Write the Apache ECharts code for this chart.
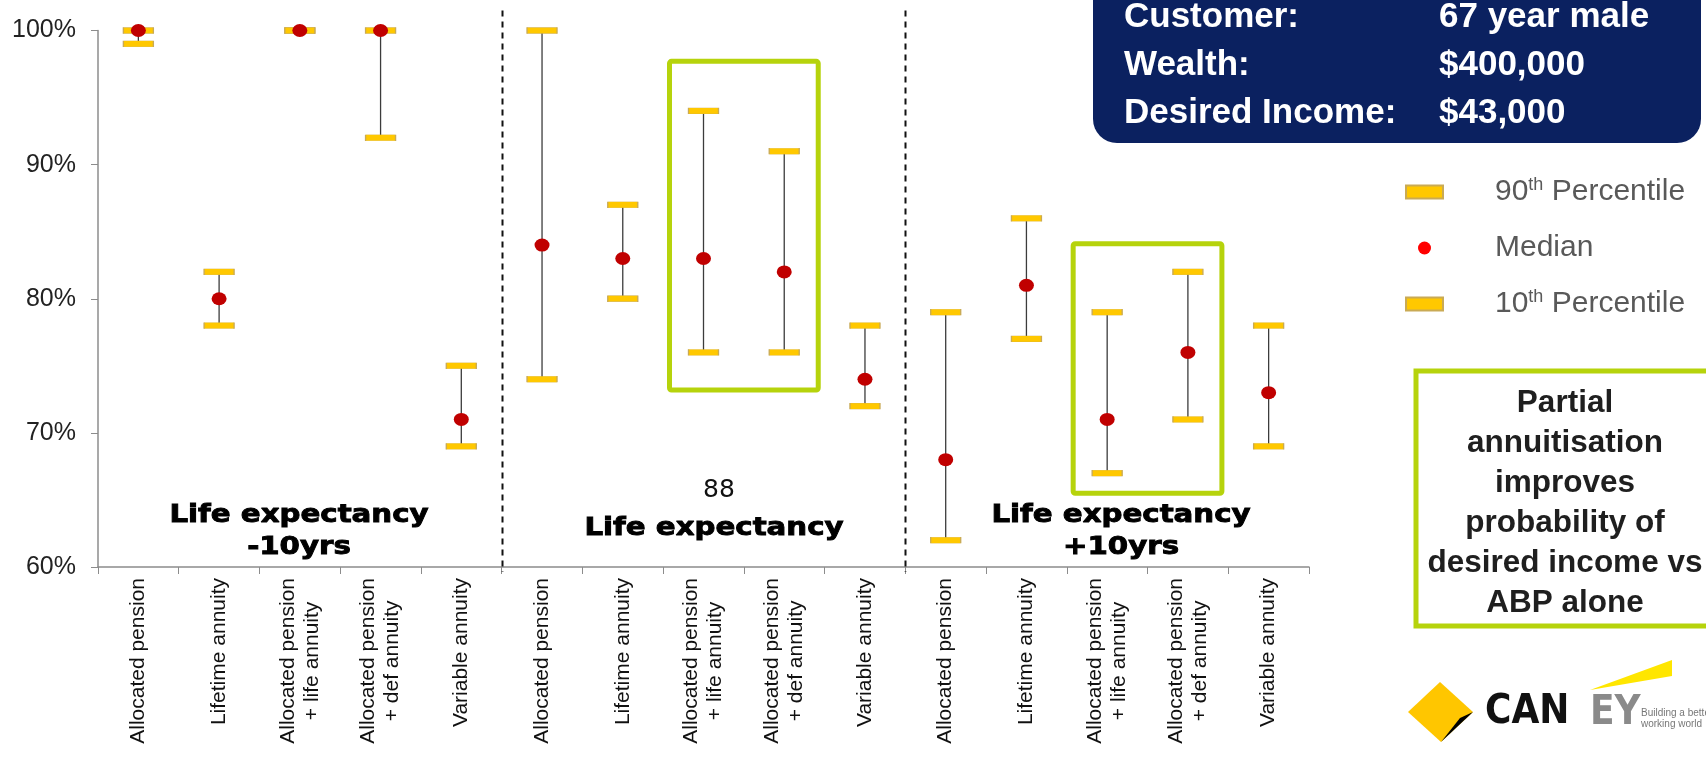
<!DOCTYPE html>
<html>
<head>
<meta charset="utf-8">
<script src="https://cdn.jsdelivr.net/npm/echarts@6/dist/echarts.min.js"></script>
<style>
  html, body { margin: 0; padding: 0; background: #fff; }
  #chart { width: 1706px; height: 757px; }
</style>
</head>
<body>
<div id="chart"></div>
<script>
// categories repeat for the three life-expectancy scenarios
const PRODUCTS = [
  'Allocated pension',
  'Lifetime annuity',
  'Allocated pension\n+ life annuity',
  'Allocated pension\n+ def annuity',
  'Variable annuity',
]
const CATEGORIES = [...PRODUCTS, ...PRODUCTS, ...PRODUCTS]

// probability of meeting desired income (%)
const P90 = [100, 82, 100, 100, 75, 100, 87, 94, 91, 78, 79, 86, 79, 82, 78]
const MEDIAN = [100, 80, 100, 100, 71, 84, 83, 83, 82, 74, 68, 81, 71, 76, 73]
const P10 = [99, 78, 100, 92, 69, 74, 80, 76, 76, 72, 62, 77, 67, 71, 69]

const Y_MIN = 60
const Y_MAX = 100
const Y_STEP = 10

// dashed separators sit after these category indexes
const DIVIDER_AFTER = [4, 9]
// green boxes: [first cat, last cat, top %, bottom %]
const HIGHLIGHTS = [[7, 8, 97.7, 73.2], [12, 13, 84.1, 65.5]]

const GROUP_LABELS = ['Life expectancy\n-10yrs', 'Life expectancy', 'Life expectancy\n+10yrs']
const CUSTOMER_ROWS = [
  ['Customer:', '67 year male'],
  ['Wealth:', '$400,000'],
  ['Desired Income:', '$43,000'],
]
const CALLOUT = 'Partial\nannuitisation\nimproves\nprobability of\ndesired income vs\nABP alone'

const YELLOW = '#FFC800'
const GREEN = '#B6D30C'
const NAVY = '#0B2160'
const FONT = 'Liberation Sans, Arial, sans-serif'
const HEAVY = 'DejaVu Sans, Liberation Sans, sans-serif'

const chart = echarts.init(document.getElementById('chart'), null, { renderer: 'canvas' })

// wide heavy captions (Arial Black look)
function groupText(text, x, y) {
  return {
    type: 'text',
    x, y,
    scaleX: 1.17,
    style: {
      text, fill: '#000', fontFamily: HEAVY, fontWeight: 'bold', fontSize: 25,
      lineHeight: 32, align: 'center', verticalAlign: 'middle',
      stroke: '#000', lineWidth: 0.9,
    },
  }
}

const graphics = [
  // customer box
  { type: 'rect', shape: { x: 1093, y: -24, width: 608, height: 167, r: [0, 0, 24, 24] }, style: { fill: NAVY } },
  ...CUSTOMER_ROWS.flatMap((row, i) => [
    { type: 'text', x: 1124, y: 17 + i * 48, style: { text: row[0], fill: '#fff', fontFamily: FONT, fontWeight: 'bold', fontSize: 35, verticalAlign: 'middle' } },
    { type: 'text', x: 1439, y: 17 + i * 48, style: { text: row[1], fill: '#fff', fontFamily: FONT, fontWeight: 'bold', fontSize: 35, verticalAlign: 'middle' } },
  ]),
  // callout
  { type: 'rect', shape: { x: 1416, y: 371, width: 320, height: 255 }, style: { fill: '#fff', stroke: GREEN, lineWidth: 5 } },
  { type: 'text', x: 1565, y: 503, style: { text: CALLOUT, fill: '#1f1f1f', fontFamily: FONT, fontWeight: 'bold', fontSize: 31.5, lineHeight: 40, align: 'center', verticalAlign: 'middle' } },
  // scenario labels
  groupText(GROUP_LABELS[0], 299, 531),
  { type: 'text', x: 719, y: 490, style: { text: '88', fill: '#111', fontFamily: HEAVY, fontSize: 25, align: 'center', verticalAlign: 'middle' } },
  groupText(GROUP_LABELS[1], 714, 528),
  groupText(GROUP_LABELS[2], 1121, 531),
  // logos
  { type: 'polygon', shape: { points: [[1408, 712], [1440, 682], [1473, 712], [1441, 742]] }, style: { fill: '#FFC600' } },
  { type: 'polygon', shape: { points: [[1473, 712], [1441, 742], [1460, 718]] }, style: { fill: '#000' } },
  { type: 'text', x: 1485, y: 713, style: { text: 'CAN', fill: '#111', fontFamily: 'DejaVu Sans Condensed, DejaVu Sans, sans-serif', fontWeight: 'bold', fontSize: 40, verticalAlign: 'middle' } },
  { type: 'polygon', shape: { points: [[1590, 690], [1672, 660], [1672, 676]] }, style: { fill: '#FFE600' } },
  { type: 'text', x: 1590, y: 714, style: { text: 'EY', fill: '#8a8a8a', fontFamily: 'DejaVu Sans Condensed, DejaVu Sans, sans-serif', fontWeight: 'bold', fontSize: 40, verticalAlign: 'middle' } },
  { type: 'text', x: 1641, y: 719, style: { text: 'Building a better\nworking world', fill: '#777', fontFamily: FONT, fontSize: 10, lineHeight: 11, verticalAlign: 'middle' } },
]

chart.setOption({
  animation: false,
  backgroundColor: '#fff',
  grid: { left: 98, right: 397, top: 30.5, bottom: 190, containLabel: false },
  legend: {
    orient: 'vertical',
    left: 1400,
    top: 171,
    itemWidth: 37,
    itemHeight: 13,
    itemGap: 24,
    data: [
      { name: '90th Percentile', icon: 'rect' },
      { name: 'Median', icon: 'circle', itemStyle: { color: '#FF0000' } },
      { name: '10th Percentile', icon: 'rect' },
    ],
    formatter: name => name.replace(/^(\d+)th/, '$1{sup|th}'),
    textStyle: {
      fontSize: 30,
      lineHeight: 32,
      color: '#595959',
      fontFamily: FONT,
      padding: [0, 0, 0, 47],
      rich: { sup: { fontSize: 18, color: '#595959', verticalAlign: 'top', fontFamily: FONT } },
    },
  },
  xAxis: {
    type: 'category',
    data: CATEGORIES,
    axisLine: { lineStyle: { color: '#8c8c8c', width: 1.5 } },
    axisTick: { show: true, interval: 0, length: 7, lineStyle: { color: '#8c8c8c' } },
    axisLabel: {
      interval: 0,
      rotate: 90,
      margin: 11,
      color: '#111',
      fontFamily: FONT,
      fontSize: 21,
      formatter: v => v.split('\n').map(s => `{c|${s}}`).join('\n'),
      rich: { c: { align: 'center', fontSize: 21, lineHeight: 24, color: '#111', fontFamily: FONT } },
    },
    splitLine: { show: false },
  },
  yAxis: {
    type: 'value',
    min: Y_MIN,
    max: Y_MAX,
    interval: Y_STEP,
    axisLine: { show: true, lineStyle: { color: '#8c8c8c', width: 1.5 } },
    axisTick: { show: true, length: 7, lineStyle: { color: '#8c8c8c' } },
    axisLabel: { formatter: '{value}%', color: '#222', fontFamily: FONT, fontSize: 25, margin: 22 },
    splitLine: { show: false },
  },
  series: [
    {
      name: 'dividers',
      type: 'custom',
      silent: true,
      data: DIVIDER_AFTER.map(i => [i, Y_MAX]),
      encode: { x: 0, y: 1 },
      renderItem(params, api) {
        const p = api.coord([api.value(0), api.value(1)])
        const bw = api.size([1, 0])[0]
        const cs = params.coordSys
        const x = Math.round(p[0] + bw / 2) + 0.5
        return {
          type: 'line',
          shape: { x1: x, y1: cs.y - 20, x2: x, y2: cs.y + cs.height + 5 },
          style: { stroke: '#111', lineWidth: 2, lineDash: [6, 5] },
        }
      },
    },
    {
      name: 'highlights',
      type: 'custom',
      silent: true,
      data: HIGHLIGHTS,
      encode: { x: [0, 1], y: [2, 3] },
      renderItem(params, api) {
        const a = api.coord([api.value(0), api.value(2)])
        const b = api.coord([api.value(1), api.value(3)])
        const pad = 34
        return {
          type: 'rect',
          shape: { x: a[0] - pad, y: a[1], width: b[0] - a[0] + pad * 2, height: b[1] - a[1], r: 2 },
          style: { fill: 'none', stroke: GREEN, lineWidth: 5 },
        }
      },
    },
    {
      name: 'range',
      type: 'custom',
      silent: true,
      data: CATEGORIES.map((_, i) => [i, P10[i], P90[i]]),
      encode: { x: 0, y: [1, 2] },
      renderItem(params, api) {
        const lo = api.coord([api.value(0), api.value(1)])
        const hi = api.coord([api.value(0), api.value(2)])
        return {
          type: 'line',
          shape: { x1: lo[0], y1: lo[1], x2: hi[0], y2: hi[1] },
          style: { stroke: '#3c3c3c', lineWidth: 1.3 },
        }
      },
    },
    {
      name: '90th Percentile',
      type: 'scatter',
      clip: false,
      symbol: 'rect',
      symbolSize: [30, 6],
      itemStyle: { color: YELLOW, borderColor: '#c9aa55', borderWidth: 0.6, opacity: 1 },
      data: P90,
    },
    {
      name: '10th Percentile',
      type: 'scatter',
      clip: false,
      symbol: 'rect',
      symbolSize: [30, 6],
      itemStyle: { color: YELLOW, borderColor: '#c9aa55', borderWidth: 0.6, opacity: 1 },
      data: P10,
    },
    {
      name: 'Median',
      type: 'scatter',
      clip: false,
      symbol: 'circle',
      symbolSize: [15, 13],
      itemStyle: { color: '#C00000', opacity: 1 },
      data: MEDIAN,
    },
  ],
  graphic: graphics,
})
</script>
</body>
</html>
